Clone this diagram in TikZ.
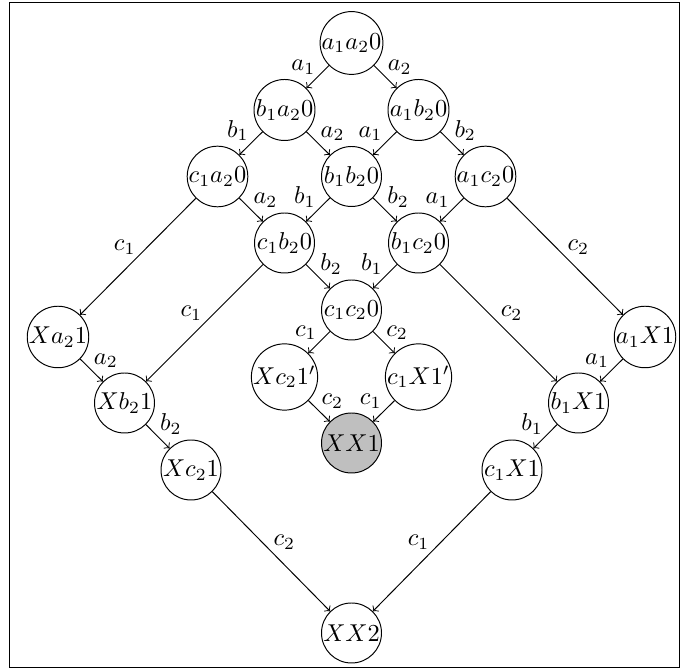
\documentclass[tikz,border=0pt]{standalone}
\begin{document}
\begin{tikzpicture}[x=0.41pt,y=-0.41pt,
  st/.style={circle,draw,inner sep=0pt,minimum size=24.6pt},
  goal/.style={st,fill=gray!50},
  ar/.style={->},
  ll/.style={above left,inner sep=0.8pt},
  lr/.style={above right,inner sep=0.8pt}]
\useasboundingbox (0,0) rectangle (681,671);
\draw (9,2.5) rectangle (679.5,667.5);
\node[st] (A) at (351.5,43) {$a_1a_20$};
\node[st] (B1) at (284.5,110) {$b_1a_20$};
\node[st] (B2) at (418.5,110) {$a_1b_20$};
\node[st] (C1) at (217.5,176.5) {$c_1a_20$};
\node[st] (C2) at (351.5,176.5) {$b_1b_20$};
\node[st] (C3) at (485.5,176.5) {$a_1c_20$};
\node[st] (D1) at (284.5,243) {$c_1b_20$};
\node[st] (D2) at (418.5,243) {$b_1c_20$};
\node[st] (E) at (351.5,310) {$c_1c_20$};
\node[st] (L1) at (58,337) {$Xa_21$};
\node[st] (R1) at (645,337) {$a_1X1$};
\node[st] (F1) at (284.5,377) {$Xc_21'$};
\node[st] (F2) at (418.5,377) {$c_1X1'$};
\node[st] (L2) at (124.5,403) {$Xb_21$};
\node[st] (R2) at (578.5,403) {$b_1X1$};
\node[goal] (G) at (351.5,443) {$XX1$};
\node[st] (L3) at (191,470) {$Xc_21$};
\node[st] (R3) at (512,470) {$c_1X1$};
\node[st] (H) at (351.5,633) {$XX2$};
\draw[ar] (A) -- node[ll] {$a_1$} (B1);
\draw[ar] (A) -- node[lr] {$a_2$} (B2);
\draw[ar] (B1) -- node[ll] {$b_1$} (C1);
\draw[ar] (B1) -- node[lr] {$a_2$} (C2);
\draw[ar] (B2) -- node[ll] {$a_1$} (C2);
\draw[ar] (B2) -- node[lr] {$b_2$} (C3);
\draw[ar] (C1) -- node[lr] {$a_2$} (D1);
\draw[ar] (C1) -- node[ll] {$c_1$} (L1);
\draw[ar] (C2) -- node[ll] {$b_1$} (D1);
\draw[ar] (C2) -- node[lr] {$b_2$} (D2);
\draw[ar] (C3) -- node[ll] {$a_1$} (D2);
\draw[ar] (C3) -- node[lr] {$c_2$} (R1);
\draw[ar] (D1) -- node[lr] {$b_2$} (E);
\draw[ar] (D1) -- node[ll] {$c_1$} (L2);
\draw[ar] (D2) -- node[ll] {$b_1$} (E);
\draw[ar] (D2) -- node[lr] {$c_2$} (R2);
\draw[ar] (E) -- node[ll] {$c_1$} (F1);
\draw[ar] (E) -- node[lr] {$c_2$} (F2);
\draw[ar] (F1) -- node[lr] {$c_2$} (G);
\draw[ar] (F2) -- node[ll] {$c_1$} (G);
\draw[ar] (L1) -- node[lr] {$a_2$} (L2);
\draw[ar] (L2) -- node[lr] {$b_2$} (L3);
\draw[ar] (L3) -- node[lr] {$c_2$} (H);
\draw[ar] (R1) -- node[ll] {$a_1$} (R2);
\draw[ar] (R2) -- node[ll] {$b_1$} (R3);
\draw[ar] (R3) -- node[ll] {$c_1$} (H);
\end{tikzpicture}
\end{document}
